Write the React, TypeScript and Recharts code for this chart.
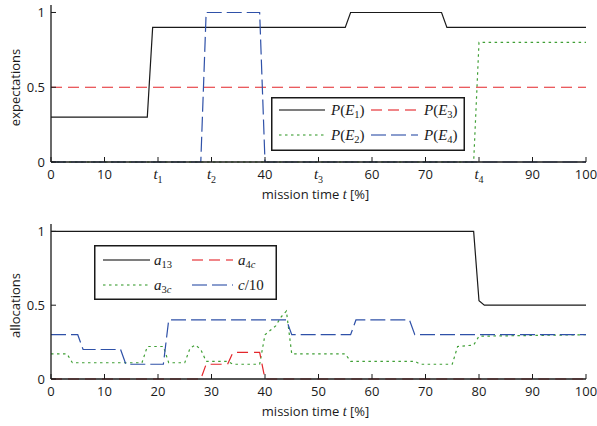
import React from 'react';
import { LineChart, Line, XAxis, YAxis, Legend } from 'recharts';

const SANS = '"Open Sans", "DejaVu Sans", sans-serif';
const SERIF = '"Liberation Serif", "DejaVu Serif", serif';
const INK = '#1a1a1a';
const RED = '#e3262b';
const GREEN = '#3f9f35';
const BLUE = '#2f51a8';

const xTicks = [0, 10, 20, 30, 40, 50, 60, 70, 80, 90, 100];
const topTickLabels = ['0', '10', 't1', 't2', '40', 't3', '60', '70', 't4', '90', '100'];
const bottomTickLabels = ['0', '10', '20', '30', '40', '50', '60', '70', '80', '90', '100'];
const yTicks = [0, 0.5, 1];

// expectations P(E_i) over mission time
const e1T = [0, 18, 19, 55, 56, 73, 74, 100];
const e1V = [0.3, 0.3, 0.9, 0.9, 1, 1, 0.9, 0.9];
const e2T = [0, 79, 80, 100];
const e2V = [0, 0, 0.8, 0.8];
const e3T = [0, 100];
const e3V = [0.5, 0.5];
const e4T = [0, 28, 29, 39, 40, 100];
const e4V = [0, 0, 1, 1, 0, 0];

// allocations
const a13T = [0, 79, 80, 81, 100];
const a13V = [1, 1, 0.53, 0.5, 0.5];
const a4cT = [0, 28, 29, 33, 34, 39, 40, 100];
const a4cV = [0, 0, 0.1, 0.1, 0.18, 0.18, 0, 0];
const a3cT = [0, 3, 4, 17, 18, 21, 22, 25, 26, 27, 28, 29, 33, 34, 39, 40, 41, 42, 43, 44, 45, 55, 56, 68, 69, 75, 76, 79, 80, 100];
const a3cV = [0.17, 0.17, 0.11, 0.11, 0.22, 0.22, 0.11, 0.11, 0.21, 0.23, 0.2, 0.12, 0.12, 0.1, 0.1, 0.3, 0.33, 0.36, 0.42, 0.46, 0.17, 0.17, 0.12, 0.12, 0.1, 0.1, 0.22, 0.23, 0.29, 0.3];
const c10T = [0, 5, 6, 13, 14, 21, 22, 44, 45, 56, 57, 67, 68, 100];
const c10V = [0.3, 0.3, 0.2, 0.2, 0.1, 0.1, 0.4, 0.4, 0.3, 0.3, 0.4, 0.4, 0.3, 0.3];

const pts = (t: number[], v: number[]) => t.map((x, i) => ({ x, y: v[i] }));

const DASH_RED = '11 6';
const DASH_BLUE = '15 5';
const DOT_GREEN = '2.5 3.5';

const topSeries = [
  { key: 'e1', data: pts(e1T, e1V), color: INK, dash: undefined },
  { key: 'e2', data: pts(e2T, e2V), color: GREEN, dash: DOT_GREEN },
  { key: 'e3', data: pts(e3T, e3V), color: RED, dash: DASH_RED },
  { key: 'e4', data: pts(e4T, e4V), color: BLUE, dash: DASH_BLUE },
];

const bottomSeries = [
  { key: 'a13', data: pts(a13T, a13V), color: INK, dash: undefined },
  { key: 'a3c', data: pts(a3cT, a3cV), color: GREEN, dash: DOT_GREEN },
  { key: 'c10', data: pts(c10T, c10V), color: BLUE, dash: DASH_BLUE },
  { key: 'a4c', data: pts(a4cT, a4cV), color: RED, dash: DASH_RED },
];

const sub = (s: string) => (
  <tspan fontSize={10.5} dy={3}>{s}</tspan>
);

const legendLabels: Record<string, React.ReactNode> = {
  e1: <><tspan fontStyle="italic">P</tspan>(<tspan fontStyle="italic">E</tspan>{sub('1')}<tspan dy={-3}>)</tspan></>,
  e2: <><tspan fontStyle="italic">P</tspan>(<tspan fontStyle="italic">E</tspan>{sub('2')}<tspan dy={-3}>)</tspan></>,
  e3: <><tspan fontStyle="italic">P</tspan>(<tspan fontStyle="italic">E</tspan>{sub('3')}<tspan dy={-3}>)</tspan></>,
  e4: <><tspan fontStyle="italic">P</tspan>(<tspan fontStyle="italic">E</tspan>{sub('4')}<tspan dy={-3}>)</tspan></>,
  a13: <><tspan fontStyle="italic">a</tspan>{sub('13')}</>,
  a4c: <><tspan fontStyle="italic">a</tspan><tspan fontSize={10.5} dy={3}>4</tspan><tspan fontSize={10.5} fontStyle="italic">c</tspan></>,
  a3c: <><tspan fontStyle="italic">a</tspan><tspan fontSize={10.5} dy={3}>3</tspan><tspan fontSize={10.5} fontStyle="italic">c</tspan></>,
  c10: <><tspan fontStyle="italic">c</tspan>/10</>,
};

type Slot = { key: string; col: number; row: number };

function LegendBox({ w, h, series, slots, cols, rows }: any) {
  return (
    <svg width={w} height={h} style={{ display: 'block' }}>
      <rect x={0.75} y={0.75} width={w - 1.5} height={h - 1.5} fill="#fff" stroke={INK} strokeWidth={1.5} />
      {slots.map((s: Slot) => {
        const ser = series.find((q: any) => q.key === s.key);
        const c = cols[s.col];
        const y = rows[s.row];
        return (
          <g key={s.key}>
            <line x1={c[0]} x2={c[1]} y1={y} y2={y} stroke={ser.color} strokeWidth={1.3}
              strokeDasharray={ser.dash} strokeOpacity={0.75} />
            <text x={c[2]} y={y + 5} fontFamily={SERIF} fontSize={15} fill={INK}>
              {legendLabels[s.key]}
            </text>
          </g>
        );
      })}
    </svg>
  );
}

function XTick(props: any) {
  const { x, y, payload, labels } = props;
  const idx = xTicks.indexOf(payload.value);
  const label: string = idx >= 0 ? labels[idx] : String(payload.value);
  const base = y + 9.5;
  if (label.startsWith('t')) {
    return (
      <text x={x} y={base} textAnchor="middle" fill={INK}>
        <tspan fontFamily={SERIF} fontStyle="italic" fontSize={15}>t</tspan>
        <tspan fontFamily={SERIF} fontSize={10} dy={4}>{label.slice(1)}</tspan>
      </text>
    );
  }
  return (
    <text x={x} y={base} textAnchor="middle" fontFamily={SANS} fontSize={13} fill={INK}>
      {label}
    </text>
  );
}

function XTitle(props: any) {
  const vb = props.viewBox || { x: 51, y: 162, width: 535 };
  return (
    <text x={vb.x + vb.width / 2 - 3} y={vb.y + 37} textAnchor="middle" fontFamily={SANS} fontSize={13} fill={INK}>
      mission time <tspan fontFamily={SERIF} fontStyle="italic" fontSize={14}>t</tspan> [%]
    </text>
  );
}

function YTitle(props: any) {
  const vb = props.viewBox || { x: 0, y: 5, width: 51, height: 157 };
  const cy = vb.y + vb.height / 2 + 4;
  return (
    <text x={20} y={cy} transform={`rotate(-90 20 ${cy})`} textAnchor="middle"
      fontFamily={SANS} fontSize={13} fill={INK}>
      {props.text}
    </text>
  );
}

const axisStroke = { stroke: INK, strokeWidth: 1.3 };

function Panel({ height, top, bottomAxis, labels, yTitle, series, legend }: any) {
  return (
    <LineChart width={597} height={height} margin={{ top, right: 11, bottom: 0, left: 0 }}>
      <XAxis
        type="number" dataKey="x" domain={[0, 100]} ticks={xTicks} interval={0}
        height={bottomAxis} tickSize={-5} tickMargin={12}
        axisLine={axisStroke} tickLine={{ stroke: INK }}
        tick={(p: any) => <XTick {...p} labels={labels} />}
        label={<XTitle />}
      />
      <XAxis
        xAxisId="top" orientation="top" type="number" domain={[0, 100]} ticks={xTicks} interval={0}
        height={0} tickSize={-5} tick={false} axisLine={axisStroke} tickLine={{ stroke: INK }}
      />
      <YAxis
        type="number" domain={[0, 1.05]} ticks={yTicks} interval={0} width={51}
        tickSize={-5} tickMargin={11} axisLine={axisStroke} tickLine={{ stroke: INK }}
        tick={{ fontFamily: SANS, fontSize: 13, fill: INK }}
        label={<YTitle text={yTitle} />}
      />
      <YAxis
        yAxisId="right" orientation="right" type="number" domain={[0, 1.05]} ticks={yTicks} interval={0}
        width={0} tickSize={-5} tick={false} axisLine={axisStroke} tickLine={{ stroke: INK }}
      />
      {series.map((s: any) => (
        <Line
          key={s.key} data={s.data} dataKey="y" type="linear" stroke={s.color}
          strokeWidth={1.2} strokeDasharray={s.dash} dot={false} activeDot={false}
          isAnimationActive={false}
        />
      ))}
      <Legend
        layout="horizontal" verticalAlign="middle" align="center"
        wrapperStyle={{ position: 'absolute', left: legend.left, top: legend.top, width: legend.w, height: legend.h }}
        content={() => <LegendBox series={series} {...legend} />}
      />
    </LineChart>
  );
}

export default function App() {
  return (
    <div style={{ position: 'absolute', left: 0, top: 0, width: 597, height: 426, background: '#fff' }}>
      <Panel
        height={210} top={5} bottomAxis={48} labels={topTickLabels} yTitle="expectations"
        series={topSeries}
        legend={{
          left: 271, top: 97, w: 194, h: 54,
          cols: [[8, 54, 60], [100, 147, 153]], rows: [13, 38],
          slots: [
            { key: 'e1', col: 0, row: 0 }, { key: 'e3', col: 1, row: 0 },
            { key: 'e2', col: 0, row: 1 }, { key: 'e4', col: 1, row: 1 },
          ],
        }}
      />
      <Panel
        height={216} top={14} bottomAxis={47} labels={bottomTickLabels} yTitle="allocations"
        series={bottomSeries}
        legend={{
          left: 94, top: 35, w: 183, h: 55,
          cols: [[9, 56, 60], [98, 139, 144]], rows: [15, 40],
          slots: [
            { key: 'a13', col: 0, row: 0 }, { key: 'a4c', col: 1, row: 0 },
            { key: 'a3c', col: 0, row: 1 }, { key: 'c10', col: 1, row: 1 },
          ],
        }}
      />
    </div>
  );
}
